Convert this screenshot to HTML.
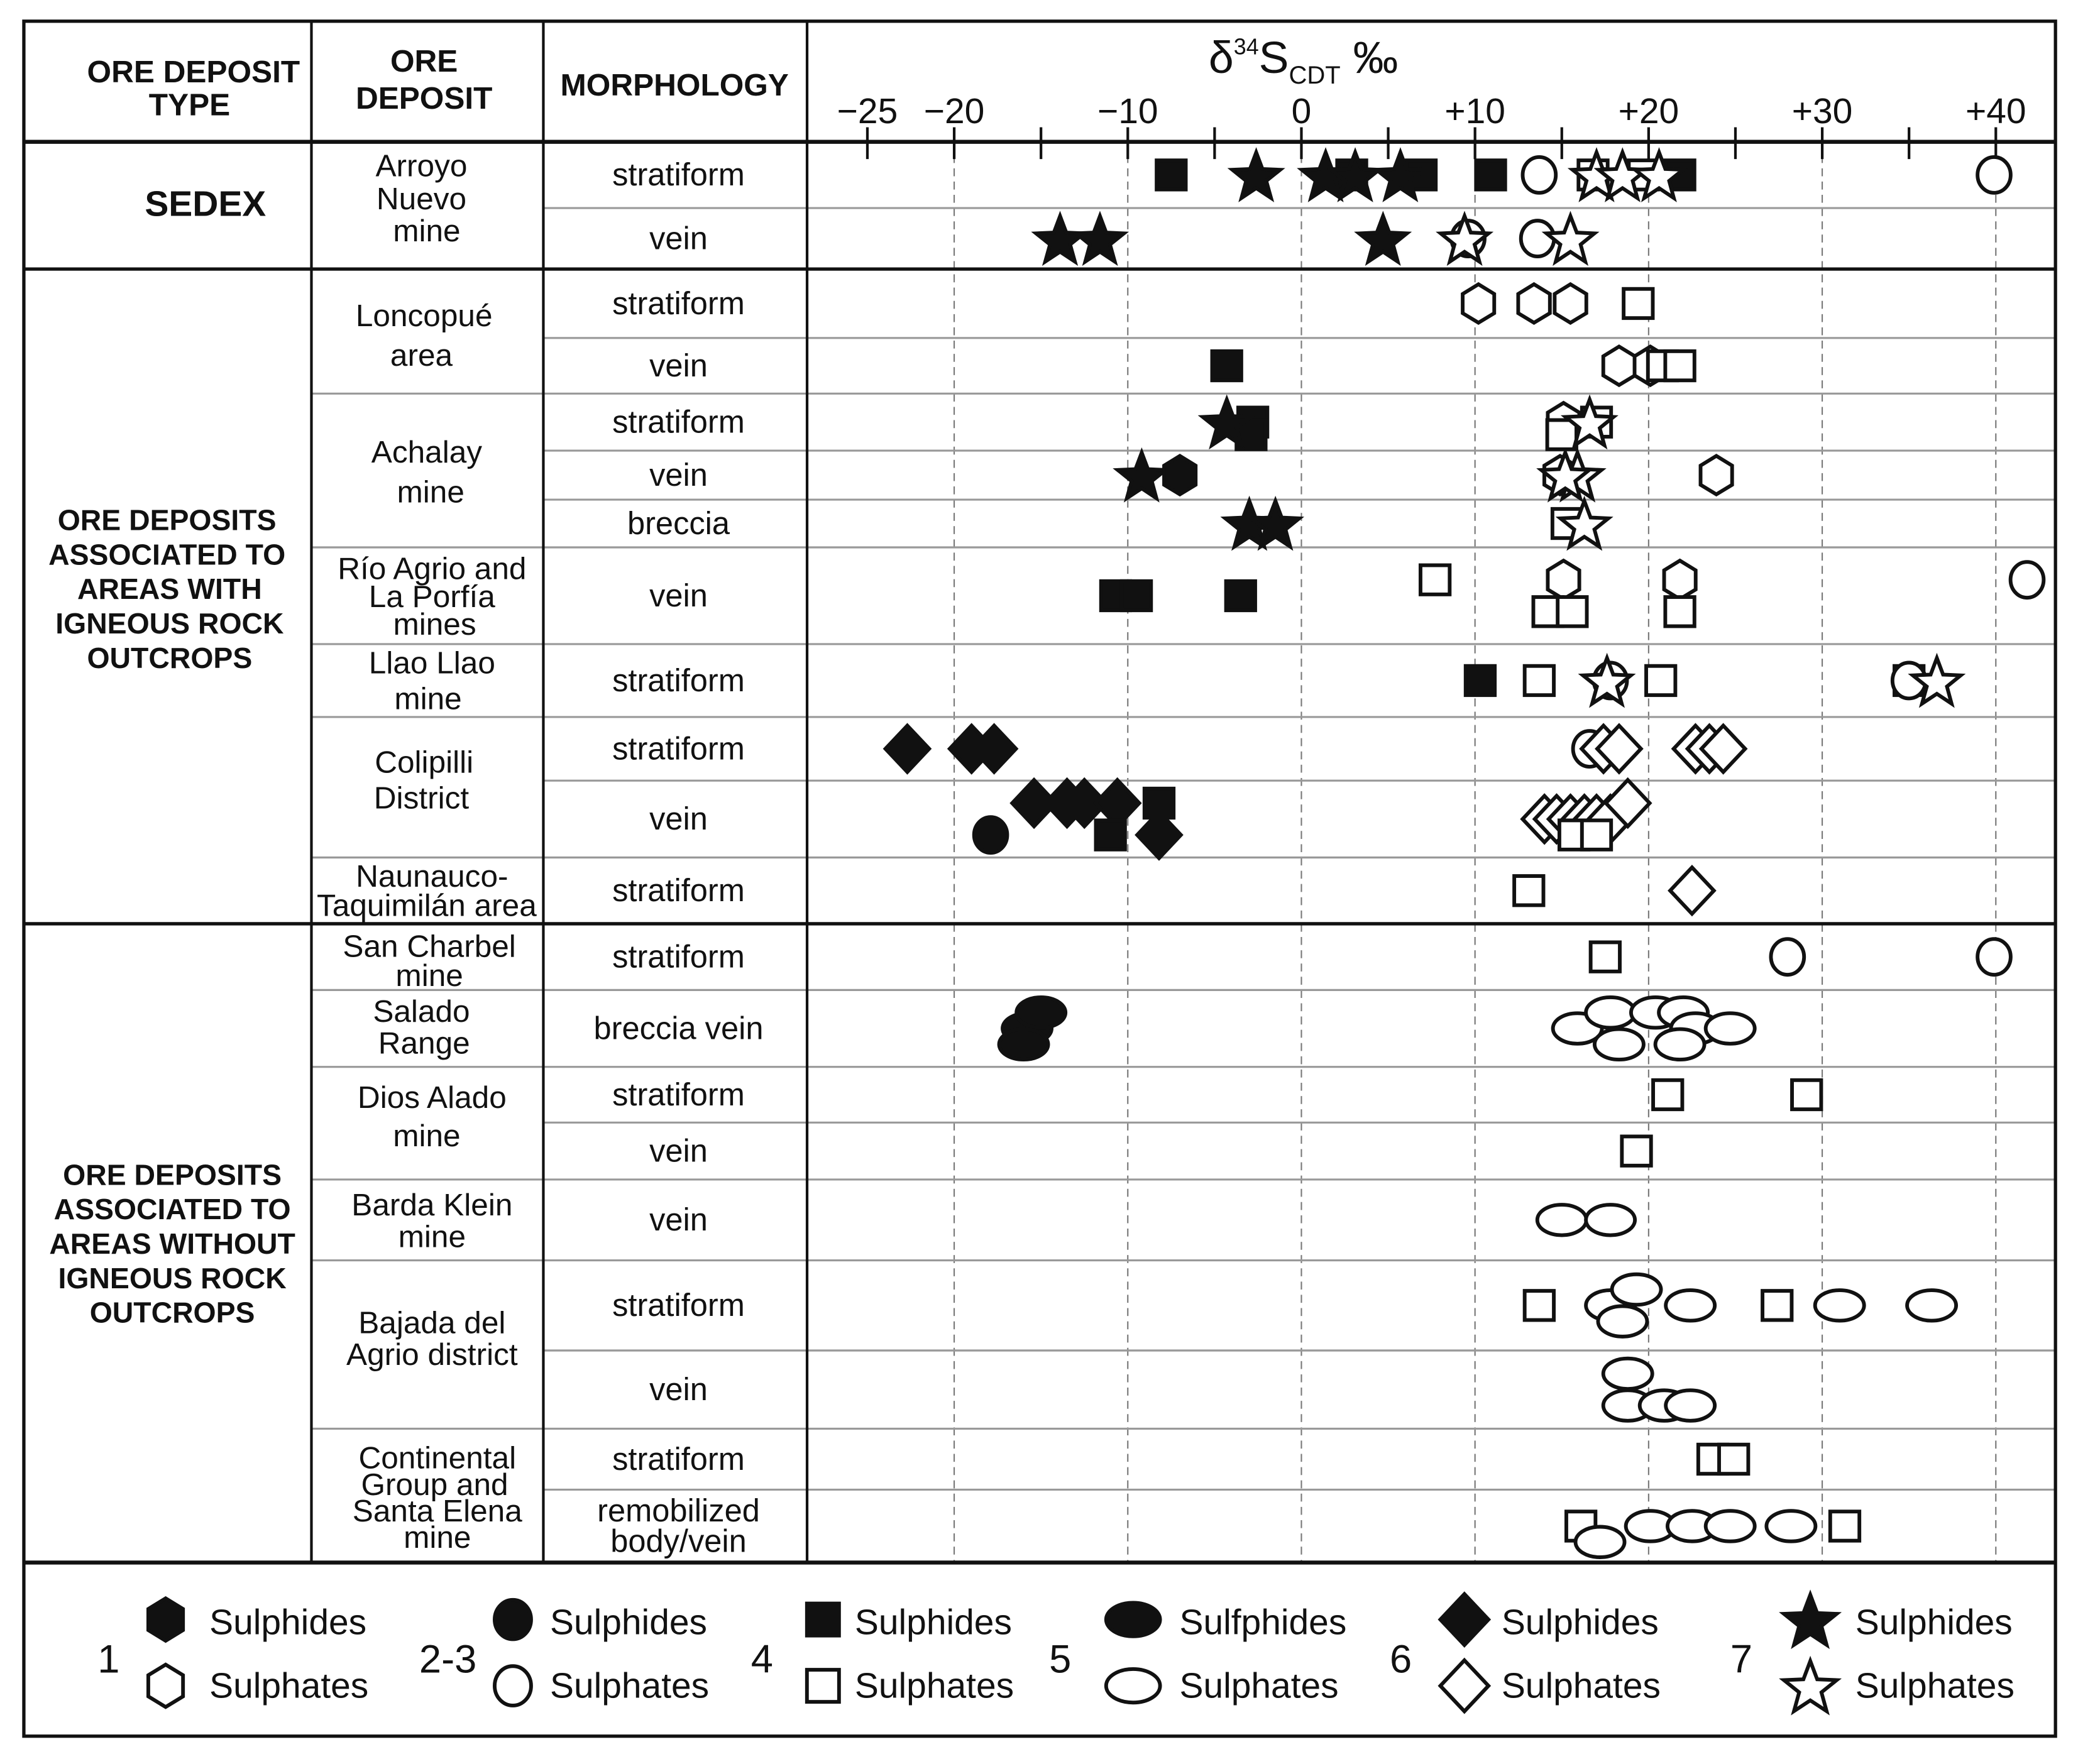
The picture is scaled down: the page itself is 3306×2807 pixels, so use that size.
<!DOCTYPE html>
<html><head><meta charset="utf-8"><style>
html,body{margin:0;padding:0;background:#fff}
svg{display:block}
text{font-family:"Liberation Sans",Arial,sans-serif;fill:#111}
.h{font-weight:bold;font-size:23.5px}
.g{font-weight:bold;font-size:22px}
.d{font-size:23.5px}
.m{font-size:24px}
.t{font-size:27px}
.l{font-size:27px}
</style></head><body>
<svg id="chart" width="3306" height="2807" viewBox="0 0 1568 1331" preserveAspectRatio="none" xmlns="http://www.w3.org/2000/svg">
<rect x="0" y="0" width="1568" height="1331" fill="#fff"/>
<g id="grid"></g>
<g id="lines" stroke="#111">
<rect x="18" y="16" width="1533" height="1294" fill="none" stroke-width="2.5"/>
<line x1="18" y1="107" x2="1551" y2="107" stroke-width="3"/>
<line x1="18" y1="203" x2="1551" y2="203" stroke-width="2.5"/>
<line x1="18" y1="697" x2="1551" y2="697" stroke-width="2.5"/>
<line x1="18" y1="1179" x2="1551" y2="1179" stroke-width="3"/>
<line x1="235" y1="16" x2="235" y2="1179" stroke-width="2"/>
<line x1="410" y1="16" x2="410" y2="1179" stroke-width="2"/>
<line x1="609" y1="16" x2="609" y2="1179" stroke-width="2"/>
</g>
<g id="hdr">
<text class="h" x="146" y="62" text-anchor="middle">ORE DEPOSIT</text>
<text class="h" x="143" y="87" text-anchor="middle">TYPE</text>
<text class="h" x="320" y="54" text-anchor="middle">ORE</text>
<text class="h" x="320" y="82" text-anchor="middle">DEPOSIT</text>
<text class="h" x="509" y="72" text-anchor="middle">MORPHOLOGY</text>
<text x="912" y="55" font-size="34">δ<tspan font-size="17" dy="-14">34</tspan><tspan dy="14">S</tspan><tspan font-size="19" dy="8">CDT</tspan><tspan dy="-8"> ‰</tspan></text>
</g>
<g>
<text class="g" x="155" y="163" text-anchor="middle" style="font-size:27px">SEDEX</text>
<g>
<text class="g" x="126" y="400" text-anchor="middle">ORE DEPOSITS</text>
<text class="g" x="126" y="426" text-anchor="middle">ASSOCIATED TO</text>
<text class="g" x="128" y="452" text-anchor="middle">AREAS  WITH</text>
<text class="g" x="128" y="478" text-anchor="middle">IGNEOUS ROCK</text>
<text class="g" x="128" y="504" text-anchor="middle">OUTCROPS</text></g>
<g>
<text class="g" x="130" y="894" text-anchor="middle">ORE DEPOSITS</text>
<text class="g" x="130" y="920" text-anchor="middle">ASSOCIATED TO</text>
<text class="g" x="130" y="946" text-anchor="middle">AREAS WITHOUT</text>
<text class="g" x="130" y="972" text-anchor="middle">IGNEOUS  ROCK</text>
<text class="g" x="130" y="998" text-anchor="middle">OUTCROPS</text></g>
</g>
<g id="deps" text-anchor="middle">
<text class="d" x="318" y="133">Arroyo</text><text class="d" x="318" y="158">Nuevo</text><text class="d" x="322" y="182">mine</text>
<text class="d" x="320" y="246">Loncopué</text><text class="d" x="318" y="276">area</text>
<text class="d" x="322" y="349">Achalay</text><text class="d" x="325" y="379">mine</text>
<text class="d" x="326" y="437" font-size="21">Río Agrio and</text><text class="d" x="326" y="458" font-size="21">La Porfía</text><text class="d" x="328" y="479" font-size="21">mines</text>
<text class="d" x="326" y="508">Llao Llao</text><text class="d" x="323" y="535">mine</text>
<text class="d" x="320" y="583">Colipilli</text><text class="d" x="318" y="610">District</text>
<text class="d" x="326" y="669">Naunauco-</text><text class="d" x="322" y="691">Taquimilán area</text>
<text class="d" x="324" y="722">San Charbel</text><text class="d" x="324" y="744">mine</text>
<text class="d" x="318" y="771">Salado</text><text class="d" x="320" y="795">Range</text>
<text class="d" x="326" y="836">Dios Alado</text><text class="d" x="322" y="865">mine</text>
<text class="d" x="326" y="917">Barda Klein</text><text class="d" x="326" y="941">mine</text>
<text class="d" x="326" y="1006" font-size="21">Bajada del</text><text class="d" x="326" y="1030" font-size="21">Agrio district</text>
<text class="d" x="330" y="1108" font-size="21">Continental</text><text class="d" x="328" y="1128" font-size="21">Group and</text><text class="d" x="330" y="1148" font-size="21">Santa Elena</text><text class="d" x="330" y="1168" font-size="21">mine</text>
</g>
<g id="morph" text-anchor="middle"></g>
<g id="axis"></g>
<g id="marks"></g>
<g id="legend"></g>
</svg>
<script>
// ---- data ----
const rowBounds = [107,157,203,255,297,340,377,413,486,541,589,647,697,747,805,847,890,951,1019,1078,1124,1179];
const morphLabels = ["stratiform","vein","stratiform","vein","stratiform","vein","breccia","vein","stratiform","stratiform","vein","stratiform","stratiform","breccia vein","stratiform","vein","vein","stratiform","vein","stratiform","remobilized|body/vein"];
const depositLineRows = [4,7,8,9,11,13,14,16,17,19];
const tickValues = [-25,-20,-15,-10,-5,0,5,10,15,20,25,30,35,40];
const tickLabels = ["−25","−20","","−10","","0","","+10","","+20","","+30","","+40"];
const gridValues = [-20,-10,0,10,20,30,40];
// points: [row, value, shape, filled, lane]  lane: -1 up, 0 center, 1 down
const points = [
[0,-7.5,"sq",1,0],[0,2.9,"sq",1,0],[0,6.9,"sq",1,0],[0,10.9,"sq",1,0],[0,21.8,"sq",1,0],
[0,-2.6,"st",1,0],[0,1.4,"st",1,0],[0,3.1,"st",1,0],[0,5.7,"st",1,0],
[0,13.7,"ci",0,0],[0,39.9,"ci",0,0],[0,16.8,"sq",0,0],[0,19.7,"sq",0,0],
[0,17,"st",0,0],[0,18.5,"st",0,0],[0,20.6,"st",0,0],
[1,-13.9,"st",1,0],[1,-11.6,"st",1,0],[1,4.7,"st",1,0],[1,9.6,"ci",0,0],[1,9.4,"st",0,0],[1,13.6,"ci",0,0],[1,15.5,"st",0,0],
[2,10.2,"hx",0,0],[2,13.4,"hx",0,0],[2,15.5,"hx",0,0],[2,19.4,"sq",0,0],
[3,-4.3,"sq",1,0],[3,18.3,"hx",0,0],[3,20.1,"hx",0,0],[3,20.8,"sq",0,0],[3,21.8,"sq",0,0],
[4,-2.8,"sq",1,0],[4,-2.9,"sq",1,1],[4,-4.3,"st",1,0],[4,15.1,"hx",0,0],[4,15,"sq",0,1],[4,17,"sq",0,0],[4,16.6,"st",0,0],
[5,-9.2,"st",1,0],[5,-7,"hx",1,0],[5,14.9,"hx",0,0],[5,15.9,"st",0,0],[5,15.2,"st",0,0],[5,23.9,"hx",0,0],
[6,-3,"st",1,0],[6,-1.5,"st",1,0],[6,15.3,"sq",0,0],[6,16.3,"st",0,0],
[7,-10.7,"sq",1,0],[7,-9.5,"sq",1,0],[7,-3.5,"sq",1,0],[7,7.7,"sq",0,-1],[7,15.1,"hx",0,-1],[7,21.8,"hx",0,-1],
[7,14.2,"sq",0,1],[7,15.6,"sq",0,1],[7,21.8,"sq",0,1],[7,41.8,"ci",0,-1],
[8,10.3,"sq",1,0],[8,13.7,"sq",0,0],[8,20.7,"sq",0,0],[8,17.8,"ci",0,0],[8,17.6,"st",0,0],[8,35,"sq",0,0],[8,35,"ci",0,0],[8,36.6,"st",0,0],
[9,-22.7,"di",1,0],[9,-19,"di",1,0],[9,-17.7,"di",1,0],[9,16.6,"ci",0,0],[9,17.4,"di",0,0],[9,18.3,"di",0,0],[9,22.7,"di",0,0],[9,23.5,"di",0,0],[9,24.3,"di",0,0],
[10,-17.9,"ci",1,1],[10,-15.4,"di",1,-1],[10,-13.5,"di",1,-1],[10,-12.5,"di",1,-1],[10,-10.6,"di",1,-1],[10,-8.2,"sq",1,-1],[10,-11,"sq",1,1],[10,-8.2,"di",1,1],
[10,14,"di",0,0],[10,14.7,"di",0,0],[10,15.5,"di",0,0],[10,16.3,"di",0,0],[10,17,"di",0,0],[10,17.8,"di",0,0],[10,18.8,"di",0,-1],[10,15.7,"sq",0,1],[10,17,"sq",0,1],
[11,13.1,"sq",0,0],[11,22.5,"di",0,0],
[12,17.5,"sq",0,0],[12,28,"ci",0,0],[12,39.9,"ci",0,0],
[13,-15.8,"el",1,0],[13,-15,"el",1,-1],[13,-16,"el",1,1],[13,15.9,"el",0,0],[13,17.8,"el",0,-1],[13,18.3,"el",0,1],[13,20.4,"el",0,-1],[13,22,"el",0,-1],[13,22.7,"el",0,0],[13,21.8,"el",0,1],[13,24.7,"el",0,0],
[14,21.1,"sq",0,0],[14,29.1,"sq",0,0],
[15,19.3,"sq",0,0],
[16,15,"el",0,0],[16,17.8,"el",0,0],
[17,13.7,"sq",0,0],[17,27.4,"sq",0,0],[17,17.8,"el",0,0],[17,19.3,"el",0,-1],[17,18.5,"el",0,1],[17,22.4,"el",0,0],[17,31,"el",0,0],[17,36.3,"el",0,0],
[18,18.8,"el",0,-1],[18,18.8,"el",0,1],[18,20.9,"el",0,1],[18,22.4,"el",0,1],
[19,23.7,"sq",0,0],[19,24.9,"sq",0,0],
[20,16.1,"sq",0,0],[20,17.2,"el",0,1],[20,20.1,"el",0,0],[20,22.5,"el",0,0],[20,24.7,"el",0,0],[20,28.2,"el",0,0],[20,31.3,"sq",0,0]
];
const legendGroups = ["1","2-3","4","5","6","7"];
const legendShapes = ["hx","ci","sq","el","di","st"];
const legendTop = ["Sulphides","Sulphides","Sulphides","Sulfphides","Sulphides","Sulphides"];
const legendBottom = ["Sulphates","Sulphates","Sulphates","Sulphates","Sulphates","Sulphates"];

// ---- helpers ----
const NS="http://www.w3.org/2000/svg";
function xs(v){return 982+v*13.1;}
function mk(tag,attrs,parent){const e=document.createElementNS(NS,tag);for(const k in attrs)e.setAttribute(k,attrs[k]);parent.appendChild(e);return e;}
function shape(kind,filled,cx,cy,parent,sc){
  sc=sc||1;
  const f=filled?"#111":"#fff";const st={fill:f,stroke:"#111","stroke-width":2.8};
  let e;
  if(kind==="sq"){const s=22*sc;e=mk("rect",Object.assign({x:cx-s/2,y:cy-s/2,width:s,height:s},st),parent);}
  else if(kind==="ci"){e=mk("ellipse",Object.assign({cx:cx,cy:cy,rx:12.5*sc,ry:13.5*sc},st),parent);}
  else if(kind==="el"){e=mk("ellipse",Object.assign({cx:cx,cy:cy,rx:18.5*sc,ry:11.5*sc},st),parent);}
  else if(kind==="hx"){const r=14.5*sc;let p=[];for(let i=0;i<6;i++){const a=Math.PI/6+i*Math.PI/3;p.push((cx+r*Math.cos(a)*0.95).toFixed(1)+","+(cy+r*Math.sin(a)).toFixed(1));}
    e=mk("polygon",Object.assign({points:p.join(" ")},st),parent);}
  else if(kind==="di"){const w=16.5*sc,h=17.5*sc;e=mk("polygon",Object.assign({points:`${cx},${cy-h} ${cx+w},${cy} ${cx},${cy+h} ${cx-w},${cy}`},st),parent);}
  else if(kind==="st"){const R=19*sc,r=8*sc;let p=[];for(let i=0;i<10;i++){const a=-Math.PI/2+i*Math.PI/5;const rr=i%2?r:R;p.push((cx+rr*Math.cos(a)).toFixed(1)+","+(cy+rr*Math.sin(a)+2*sc).toFixed(1));}
    e=mk("polygon",Object.assign({points:p.join(" ")},st),parent);}
  return e;
}

// grid + row lines
const grid=document.getElementById("grid");
gridValues.forEach(v=>{
  const l=mk("line",{x1:xs(v),y1:107,x2:xs(v),y2:1179,stroke:"#777","stroke-width":1,"stroke-dasharray":"6 4"},grid);
  
  
});
for(let i=1;i<rowBounds.length-1;i++){
  const y=rowBounds[i];
  if(y===203||y===697) continue;
  const l=mk("line",{x1:410,y1:y,x2:1551,y2:y,stroke:"#999","stroke-width":1.5},grid);
  
  
}
depositLineRows.forEach(r=>{
  const l=mk("line",{x1:235,y1:rowBounds[r],x2:410,y2:rowBounds[r],stroke:"#999","stroke-width":1.5},grid);
  
  
});

// morphology labels
const morph=document.getElementById("morph");
morphLabels.forEach((m,i)=>{
  const cy=(rowBounds[i]+rowBounds[i+1])/2;
  const parts=m.split("|");
  parts.forEach((p,j)=>{
    const t=mk("text",{x:512,y:cy+8+(j-(parts.length-1)/2)*23,class:"m"},morph);
    t.textContent=p;
    
    
  });
});

// axis
const axis=document.getElementById("axis");
tickValues.forEach((v,i)=>{
  const l=mk("line",{x1:xs(v),y1:96,x2:xs(v),y2:120,stroke:"#111","stroke-width":2},axis);
  
  
  if(tickLabels[i]){
    const t=mk("text",{x:xs(v),y:93,"text-anchor":"middle",class:"t"},axis);
    t.textContent=tickLabels[i];
    
    
  }
});

// marks
const marks=document.getElementById("marks");
points.forEach(p=>{
  const [row,v,kind,filled,lane]=p;
  const h=rowBounds[row+1]-rowBounds[row];
  const cy=(rowBounds[row]+rowBounds[row+1])/2+lane*Math.min(12,h*0.22);
  const e=shape(kind,filled,xs(v),cy,marks);
  
  
});

// legend
const legend=document.getElementById("legend");
const numX=[82,338,575,800,1057,1314], symX=[125,387,621,855,1105,1366], txtX=[158,415,645,890,1133,1400];
legendGroups.forEach((g,i)=>{
  const n=mk("text",{x:numX[i],y:1262,"text-anchor":"middle",class:"l",style:"font-size:30px"},legend);
  n.textContent=g;
  
  
  const a=shape(legendShapes[i],1,symX[i],1222,legend,1.1);
  
  
  const b=shape(legendShapes[i],0,symX[i],1272,legend,1.1);
  
  
  const t1=mk("text",{x:txtX[i],y:1233,class:"l"},legend);
  t1.textContent=legendTop[i];
  
  
  const t2=mk("text",{x:txtX[i],y:1281,class:"l"},legend);
  t2.textContent=legendBottom[i];
  
  
});
</script>
</body></html>
